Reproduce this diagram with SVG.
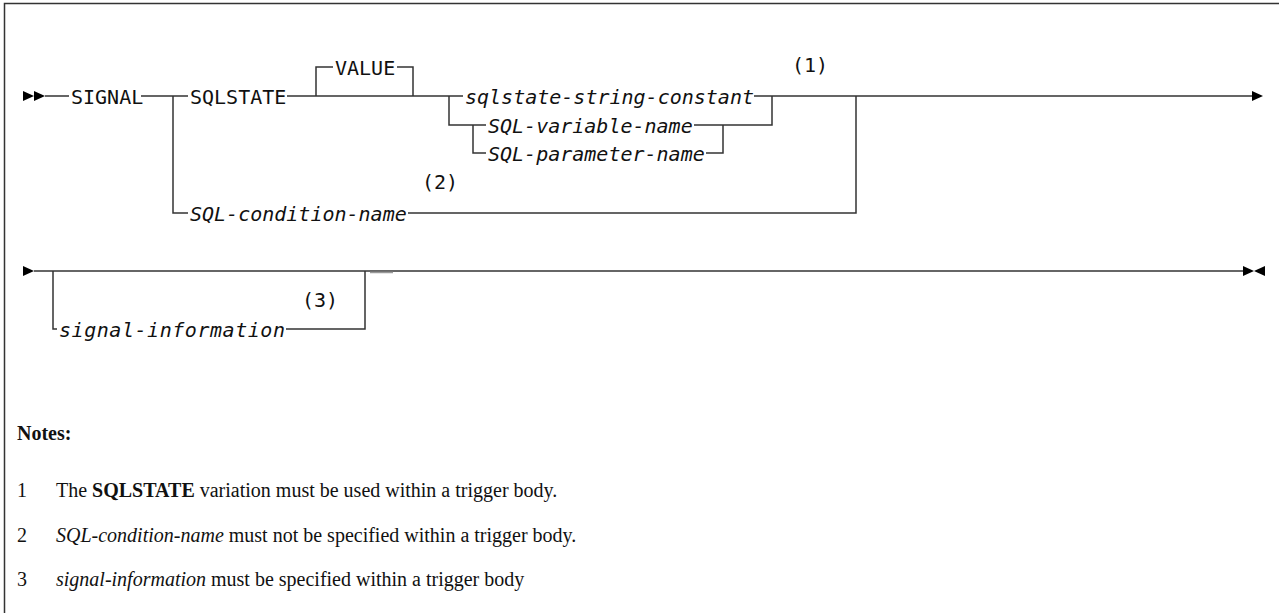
<svg xmlns="http://www.w3.org/2000/svg" width="1279" height="613" viewBox="0 0 1279 613">
<style>
.ln{fill:none;stroke:#333;stroke-width:1.5}
.ah{fill:#000;stroke:none}
.kw{font-family:"DejaVu Sans Mono","Liberation Mono",monospace;font-size:20px;fill:#111}
.var{font-family:"DejaVu Sans Mono","Liberation Mono",monospace;font-size:20px;font-style:italic;fill:#111}
.nt{font-family:"Liberation Serif","DejaVu Serif",serif;font-size:20px;fill:#111}
</style>
<rect width="1279" height="613" fill="#fff"/>
<g id="frame">
<path class="ln" d="M4.5 613 V3.5 H1279" stroke="#222"/>
</g>
<g id="connectors">
<polygon class="ah" points="23,91 34,96 23,101"/>
<polygon class="ah" points="34,91 45,96 34,101"/>
<path class="ln" d="M45 96 H69 M141 96 H188 M287 96 H463 M754 96 H1252"/>
<polygon class="ah" points="1252,91 1263,96 1252,101"/>
<path class="ln" d="M173 96 V213 H188 M408 213 H856 V96"/>
<path class="ln" d="M316 96 V67 H333 M397 67 H413 V96"/>
<path class="ln" d="M449 96 V125 H486 M694 125 H772 V96"/>
<path class="ln" d="M473 125 V153 H486 M706 153 H723 V125"/>
<polygon class="ah" points="23,266 34,271 23,276"/>
<path class="ln" d="M34 271 H1243"/>
<path class="ln" d="M53 271 V329 H57 M286 329 H365 V271"/>
<path d="M370 272.5 H393" stroke="#999" stroke-width="1.5"/>
<polygon class="ah" points="1243,266 1254,271 1243,276"/>
<polygon class="ah" points="1265,266 1254,271 1265,276"/>
</g>
<g id="node-signal"><text class="kw" x="71" y="103.5">SIGNAL</text></g>
<g id="node-sqlstate"><text class="kw" x="190" y="103.5">SQLSTATE</text></g>
<g id="node-value"><text class="kw" x="335" y="74.5">VALUE</text></g>
<g id="node-sqlstate-string-constant"><text class="var" x="465" y="103.5">sqlstate-string-constant</text></g>
<g id="node-sql-variable-name"><text class="var" x="488" y="132.5">SQL-variable-name</text></g>
<g id="node-sql-parameter-name"><text class="var" x="488" y="160.5">SQL-parameter-name</text></g>
<g id="note-ref-1"><text class="kw" x="792" y="72">(1)</text></g>
<g id="node-sql-condition-name"><text class="var" x="190" y="220.5">SQL-condition-name</text></g>
<g id="note-ref-2"><text class="kw" x="422" y="189">(2)</text></g>
<g id="node-signal-information"><text class="var" x="59" y="336.5" textLength="226">signal-information</text></g>
<g id="note-ref-3"><text class="kw" x="302" y="307">(3)</text></g>
<g id="notes">
<text class="nt" x="17" y="440" font-weight="bold">Notes:</text>
<text class="nt" x="17" y="497">1</text>
<text class="nt" x="56" y="497">The <tspan font-weight="bold">SQLSTATE</tspan> variation must be used within a trigger body.</text>
<text class="nt" x="17" y="542">2</text>
<text class="nt" x="56" y="542"><tspan font-style="italic">SQL-condition-name</tspan> must not be specified within a trigger body.</text>
<text class="nt" x="17" y="586">3</text>
<text class="nt" x="56" y="586"><tspan font-style="italic">signal-information</tspan> must be specified within a trigger body</text>
</g>
</svg>
